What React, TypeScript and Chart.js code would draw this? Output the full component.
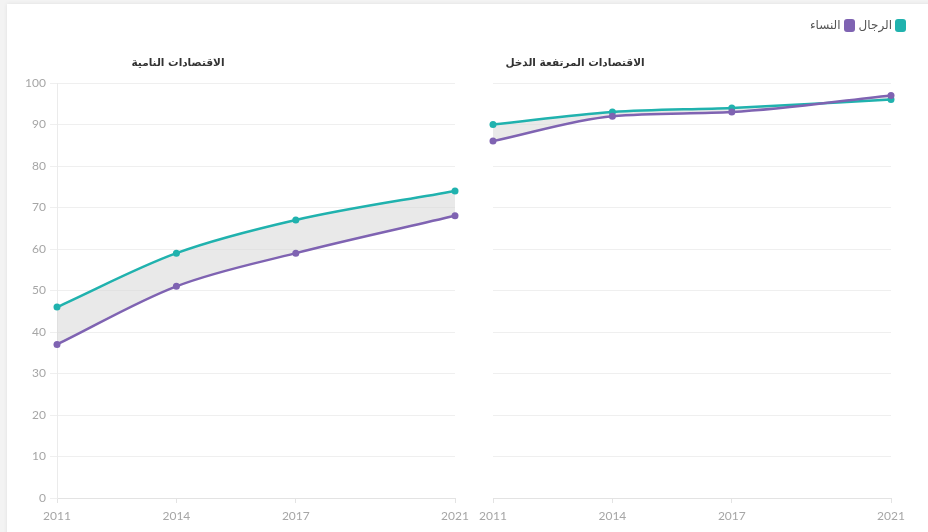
import React, { useEffect, useRef } from "react";
import { Chart, registerables } from "chart.js";

Chart.register(...registerables);

// ---- data ----
const years = [2011, 2014, 2017, 2021];
const devMen = [46, 59, 67, 74];
const devWomen = [37, 51, 59, 68];
const highMen = [90, 93, 94, 96];
const highWomen = [86, 92, 93, 97];
const panelTitles = ["الاقتصادات النامية", "الاقتصادات المرتفعة الدخل"];
const legendLabels = ["الرجال", "النساء"];

const TEAL = "#20b2ae";
const PURPLE = "#7f63b2";
const FILL = "rgba(215,215,215,0.55)";
const GRID = "#efefef";
const TICK = "#a6a6a6";
const FONT = "Lato, 'Open Sans', sans-serif";

function makeConfig(men: number[], women: number[], showY: boolean, pad: any, yWidth: number): any {
  return {
    type: "line",
    data: {
      datasets: [
        {
          label: legendLabels[1],
          data: years.map((x, i) => ({ x, y: women[i] })),
          borderColor: PURPLE,
          backgroundColor: PURPLE,
          pointBackgroundColor: PURPLE,
          pointBorderWidth: 0,
          pointRadius: 3.5,
          borderWidth: 2.5,
          cubicInterpolationMode: "monotone",
          fill: false,
          clip: false,
        },
        {
          label: legendLabels[0],
          data: years.map((x, i) => ({ x, y: men[i] })),
          borderColor: TEAL,
          backgroundColor: FILL,
          pointBackgroundColor: TEAL,
          pointBorderWidth: 0,
          pointRadius: 3.5,
          borderWidth: 2.5,
          cubicInterpolationMode: "monotone",
          fill: "-1",
          clip: false,
        },
      ],
    },
    options: {
      animation: false,
      responsive: false,
      maintainAspectRatio: false,
      layout: { padding: pad },
      plugins: { legend: { display: false }, tooltip: { enabled: false }, title: { display: false } },
      scales: {
        x: {
          type: "linear",
          min: 2011,
          max: 2021,
          afterBuildTicks: (scale: any) => {
            scale.ticks = years.map((v) => ({ value: v }));
          },
          afterFit: (scale: any) => {
            scale.height = 34;
          },
          ticks: {
            autoSkip: false,
            maxRotation: 0,
            color: TICK,
            padding: 6,
            font: { family: FONT, size: 12 },
            callback: (v: any) => String(v),
          },
          grid: { drawOnChartArea: false, drawTicks: true, tickLength: 5, color: "#e3e3e3" },
          border: { display: true, color: "#e3e3e3", width: 1 },
        },
        y: {
          min: 0,
          max: 100,
          afterFit: (scale: any) => {
            scale.width = yWidth;
          },
          ticks: {
            display: showY,
            stepSize: 10,
            color: TICK,
            padding: 4,
            font: { family: FONT, size: 12 },
          },
          grid: { color: GRID, drawTicks: showY, tickLength: 7 },
          border: { display: showY, color: "#ebebeb" },
        },
      },
    },
  };
}

function Panel(props: { left: number; width: number; men: number[]; women: number[]; showY: boolean; pad: any; yWidth: number }) {
  const ref = useRef<HTMLCanvasElement>(null);
  useEffect(() => {
    const c = new Chart(ref.current as HTMLCanvasElement, makeConfig(props.men, props.women, props.showY, props.pad, props.yWidth));
    return () => c.destroy();
  }, []);
  return (
    <canvas
      ref={ref}
      width={props.width}
      height={532}
      style={{ position: "absolute", left: props.left, top: 0, width: props.width, height: 532 }}
    />
  );
}

export default function App() {
  const titleStyle: React.CSSProperties = {
    position: "absolute",
    top: 56,
    width: 240,
    textAlign: "center",
    fontFamily: "'DejaVu Sans', sans-serif",
    fontWeight: "bold",
    fontSize: 10.5,
    color: "#333",
    direction: "rtl",
    whiteSpace: "nowrap",
  };
  const sq = (color: string): React.CSSProperties => ({
    display: "inline-block",
    width: 11,
    height: 13,
    borderRadius: 3,
    background: color,
    margin: "0 0 0 3px",
  });
  return (
    <div style={{ position: "fixed", left: 0, top: 0, width: 928, height: 532, background: "#f3f3f3", overflow: "hidden" }}>
      <div
        style={{
          position: "absolute",
          left: 7,
          top: 4,
          width: 930,
          height: 540,
          background: "#ffffff",
          boxShadow: "0 0 4px rgba(0,0,0,0.08)",
        }}
      />
      <Panel left={0} width={475} men={devMen} women={devWomen} showY={true} pad={{ left: 0, top: 83, right: 20, bottom: 0 }} yWidth={57} />
      <Panel left={470} width={458} men={highMen} women={highWomen} showY={false} pad={{ left: 23, top: 83, right: 37, bottom: 0 }} yWidth={0} />
      <div style={{ ...titleStyle, left: 178 - 120 }}>{panelTitles[0]}</div>
      <div style={{ ...titleStyle, left: 575 - 120 }}>{panelTitles[1]}</div>
      <div
        style={{
          position: "absolute",
          right: 22,
          top: 18,
          direction: "rtl",
          display: "flex",
          alignItems: "center",
          fontFamily: "'DejaVu Sans', sans-serif",
          fontSize: 12,
          color: "#555",
          whiteSpace: "nowrap",
        }}
      >
        <span style={sq(TEAL)} />
        <span style={{ marginLeft: 4 }}>{legendLabels[0]}</span>
        <span style={sq(PURPLE)} />
        <span>{legendLabels[1]}</span>
      </div>
    </div>
  );
}
